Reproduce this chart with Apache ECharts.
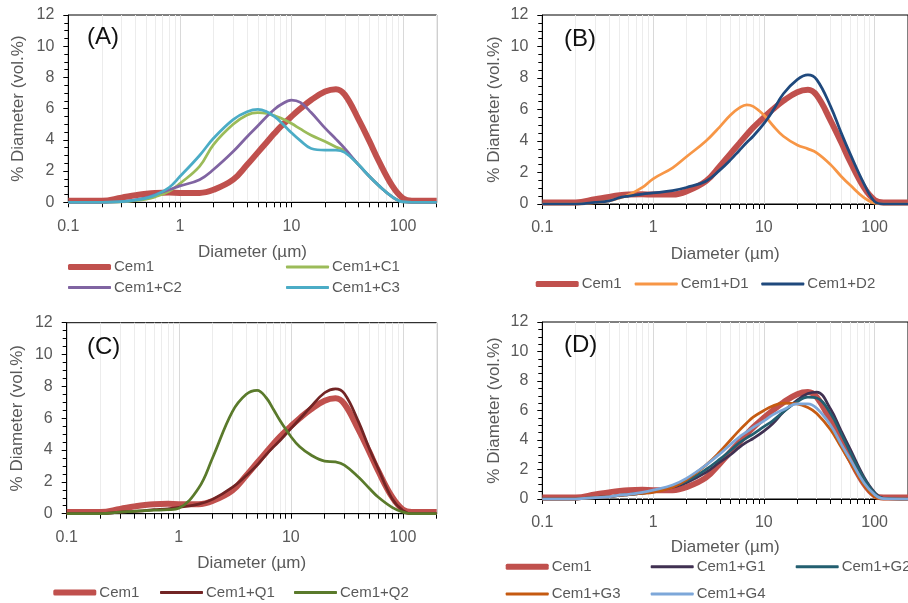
<!DOCTYPE html>
<html><head><meta charset="utf-8">
<script src="https://cdn.jsdelivr.net/npm/echarts@6/dist/echarts.min.js"></script>
<style>html,body{margin:0;padding:0;background:#fff}#c{width:908px;height:603px}</style>
</head><body><div id="c"></div>
<script>
// ---- data ----
const diam = [0.1, 0.2, 0.3, 0.4, 0.5, 0.6, 0.8, 1, 1.5, 2, 3, 4, 5, 6, 7, 8, 10, 12, 15, 20, 25, 30, 40, 50, 60, 80, 100, 120, 200];
const cem1 = [0.1, 0.1, 0.3, 0.45, 0.55, 0.6, 0.62, 0.6, 0.6, 0.8, 1.45, 2.4, 3.2, 3.85, 4.4, 4.85, 5.5, 6.0, 6.55, 7.1, 7.25, 6.9, 5.3, 3.9, 2.7, 1.05, 0.25, 0.1, 0.1];
const c1 = [0, 0, 0.02, 0.1, 0.2, 0.35, 0.7, 1.2, 2.3, 3.7, 5.0, 5.6, 5.75, 5.7, 5.55, 5.4, 5.05, 4.7, 4.3, 3.9, 3.55, 3.3, 2.4, 1.65, 1.1, 0.35, 0.02, 0, 0];
const c2 = [0, 0, 0.05, 0.15, 0.3, 0.5, 0.8, 1.05, 1.45, 2.1, 3.25, 4.2, 4.9, 5.5, 5.95, 6.25, 6.55, 6.4, 5.75, 4.75, 4.05, 3.45, 2.4, 1.65, 1.1, 0.35, 0.02, 0, 0];
const c3 = [0, 0, 0.05, 0.15, 0.27, 0.45, 0.95, 1.65, 3.0, 4.1, 5.3, 5.8, 5.95, 5.8, 5.5, 5.15, 4.45, 3.95, 3.45, 3.35, 3.35, 3.2, 2.4, 1.65, 1.1, 0.35, 0.02, 0, 0];
const d1 = [0, 0, 0.08, 0.2, 0.38, 0.57, 1.05, 1.6, 2.3, 3.0, 4.0, 4.9, 5.65, 6.1, 6.3, 6.2, 5.65, 5.0, 4.3, 3.75, 3.5, 3.25, 2.5, 1.75, 1.2, 0.4, 0.05, 0, 0];
const d2 = [0, 0, 0.1, 0.2, 0.4, 0.5, 0.63, 0.7, 0.85, 1.05, 1.45, 2.15, 2.8, 3.4, 3.9, 4.3, 5.1, 5.9, 7.0, 7.9, 8.2, 7.9, 6.2, 4.5, 3.2, 1.3, 0.15, 0, 0];
const q1 = [0, 0, 0.1, 0.15, 0.2, 0.25, 0.3, 0.4, 0.6, 0.9, 1.65, 2.4, 3.05, 3.7, 4.2, 4.6, 5.35, 5.95, 6.7, 7.6, 7.85, 7.55, 5.8, 4.1, 2.85, 0.95, 0.2, 0, 0];
const q2 = [0, 0, 0.1, 0.15, 0.2, 0.22, 0.25, 0.35, 1.6, 3.5, 6.4, 7.5, 7.75, 7.3, 6.55, 5.85, 4.85, 4.2, 3.7, 3.3, 3.25, 3.05, 2.3, 1.6, 1.05, 0.4, 0.1, 0, 0];
const g1 = [0, 0, 0.1, 0.15, 0.25, 0.3, 0.4, 0.5, 0.8, 1.1, 1.8, 2.5, 3.0, 3.5, 3.85, 4.1, 4.6, 5.1, 5.9, 6.7, 7.15, 7.25, 6.1, 4.6, 3.4, 1.5, 0.45, 0.05, 0];
const g2 = [0, 0, 0.1, 0.15, 0.25, 0.3, 0.4, 0.55, 0.85, 1.2, 2.0, 2.7, 3.3, 3.8, 4.15, 4.4, 4.9, 5.3, 5.9, 6.6, 6.9, 6.85, 5.8, 4.4, 3.2, 1.4, 0.4, 0.05, 0];
const g3 = [0, 0, 0.1, 0.15, 0.25, 0.3, 0.38, 0.45, 0.8, 1.3, 2.3, 3.2, 4.0, 4.65, 5.15, 5.55, 6.0, 6.3, 6.5, 6.45, 6.2, 5.8, 4.7, 3.5, 2.5, 0.95, 0.15, 0, 0];
const g4 = [0, 0, 0.1, 0.15, 0.27, 0.32, 0.45, 0.6, 0.95, 1.4, 2.3, 3.05, 3.7, 4.2, 4.55, 4.85, 5.3, 5.7, 6.05, 6.45, 6.45, 6.15, 5.0, 3.7, 2.7, 1.1, 0.3, 0.02, 0];
const xTickLabels = [0.1, 1, 10, 100];
const xGridVals = [0.1,0.2,0.3,0.4,0.5,0.6,0.7,0.8,0.9,1,2,3,4,5,6,7,8,9,10,20,30,40,50,60,70,80,90,100,200];
const panelLabels = ['(A)', '(B)', '(C)', '(D)'];

// ---- layout / style ----
const FONT = 'Liberation Sans, Arial, sans-serif';
const GRAY = '#595959';
const grids = [
  {left: 68.3, top: 15, width: 368.4, height: 187.3},
  {left: 542.3, top: 15, width: 369.8, height: 189},
  {left: 66.7, top: 322.7, width: 370, height: 191},
  {left: 542.3, top: 322, width: 369.8, height: 177}
];
const xNameGap = [42, 42, 41, 40];
const yNameGap = [41, 39, 41, 39];
const panels = [
  [['Cem1', cem1, '#C0504D', 6], ['Cem1+C1', c1, '#9BBB59', 2.75], ['Cem1+C2', c2, '#8064A2', 2.75], ['Cem1+C3', c3, '#4BACC6', 2.75]],
  [['Cem1', cem1, '#C0504D', 6], ['Cem1+D1', d1, '#F79646', 2.75], ['Cem1+D2', d2, '#1F497D', 2.75]],
  [['Cem1', cem1, '#C0504D', 6], ['Cem1+Q1', q1, '#722424', 2.75], ['Cem1+Q2', q2, '#5A7A2B', 2.75]],
  [['Cem1', cem1, '#C0504D', 6], ['Cem1+G1', g1, '#403152', 2.75], ['Cem1+G2', g2, '#235F70', 2.75], ['Cem1+G3', g3, '#C55A11', 2.75], ['Cem1+G4', g4, '#7DA7D9', 2.75]]
];
const legendPos = [
  [['Cem1', 68, 267.5], ['Cem1+C1', 286, 267.5], ['Cem1+C2', 68, 288], ['Cem1+C3', 286, 288]],
  [['Cem1', 535.7, 284.5], ['Cem1+D1', 634.7, 284.5], ['Cem1+D2', 761.3, 284.5]],
  [['Cem1', 53.3, 593], ['Cem1+Q1', 160, 593], ['Cem1+Q2', 294, 593]],
  [['Cem1', 505.7, 567.3], ['Cem1+G1', 650.7, 567.3], ['Cem1+G2', 795.7, 567.3], ['Cem1+G3', 505.7, 594.5], ['Cem1+G4', 650.7, 594.5]]
];
const labelPos = [[87, 38], [564, 40], [87, 348.3], [564, 346.7]];

const gridColors = ['#d9d9d9', '#ececec', '#ececec', '#ececec', '#ececec', '#ececec', '#ececec', '#ececec', '#ececec'];

const option = {
  animation: false,
  backgroundColor: '#fff',
  textStyle: {fontFamily: FONT},
  title: panelLabels.map((t, i) => ({
    text: t, left: labelPos[i][0], top: labelPos[i][1] - 13, padding: 0,
    textStyle: {fontFamily: FONT, fontSize: 24, fontWeight: 'normal', color: '#111'}
  })),
  grid: grids.map(g => Object.assign({show: true, borderColor: '#000', borderWidth: 1, backgroundColor: 'transparent'}, g)),
  xAxis: grids.map((g, i) => ({
    type: 'log', logBase: 10, gridIndex: i, min: 0.1, max: 200,
    axisLine: {show: true, lineStyle: {color: '#000', width: 1}},
    axisTick: {show: true, customValues: xGridVals, length: 5, inside: false, lineStyle: {color: '#000'}},
    axisLabel: {customValues: xTickLabels, fontSize: 16, color: GRAY, margin: 16, fontFamily: FONT,
      formatter: v => String(+(+v).toPrecision(3))},
    splitLine: {show: true, lineStyle: {color: gridColors, width: 1}},
    name: 'Diameter (µm)', nameLocation: 'middle', nameGap: xNameGap[i],
    nameTextStyle: {fontSize: 17, color: GRAY, fontFamily: FONT}
  })),
  yAxis: grids.map((g, i) => ({
    type: 'value', gridIndex: i, min: 0, max: 12, interval: 2,
    axisLine: {show: true, lineStyle: {color: '#000', width: 1}},
    axisTick: {show: true, length: 5, lineStyle: {color: '#000'}},
    minorTick: {show: true, splitNumber: 4, length: 4, lineStyle: {color: '#000'}},
    axisLabel: {fontSize: 16, color: GRAY, margin: 14, fontFamily: FONT},
    splitLine: {show: false},
    name: '% Diameter (vol.%)', nameLocation: 'middle', nameGap: yNameGap[i], nameRotate: 90,
    nameTextStyle: {fontSize: 17, color: GRAY, fontFamily: FONT}
  })),
  legend: [],
  series: []
};

panels.forEach((ser, i) => {
  const widths = {};
  ser.forEach(([name, vals, color, w]) => {
    widths[name] = w;
    option.series.push({
      type: 'line', name, xAxisIndex: i, yAxisIndex: i,
      data: diam.map((d, k) => [d, vals[k]]),
      smooth: 0.4, symbol: 'none', showSymbol: false,
      lineStyle: {color, width: w}, itemStyle: {color},
      z: name === 'Cem1' ? 2 : 3
    });
  });
  legendPos[i].forEach(([name, x, y]) => {
    const h = widths[name] > 4 ? 6 : 3;
    option.legend.push({
      data: [{name, icon: 'roundRect'}], left: x, top: y - 8, orient: 'horizontal', padding: 0,
      itemWidth: 43, itemHeight: h, selectedMode: false,
      textStyle: {fontSize: 15, color: GRAY, fontFamily: FONT, padding: [0, 0, 0, -2]}
    });
  });
});

const chart = echarts.init(document.getElementById('c'), null, {renderer: 'canvas'});
chart.setOption(option);
</script>
</body></html>
